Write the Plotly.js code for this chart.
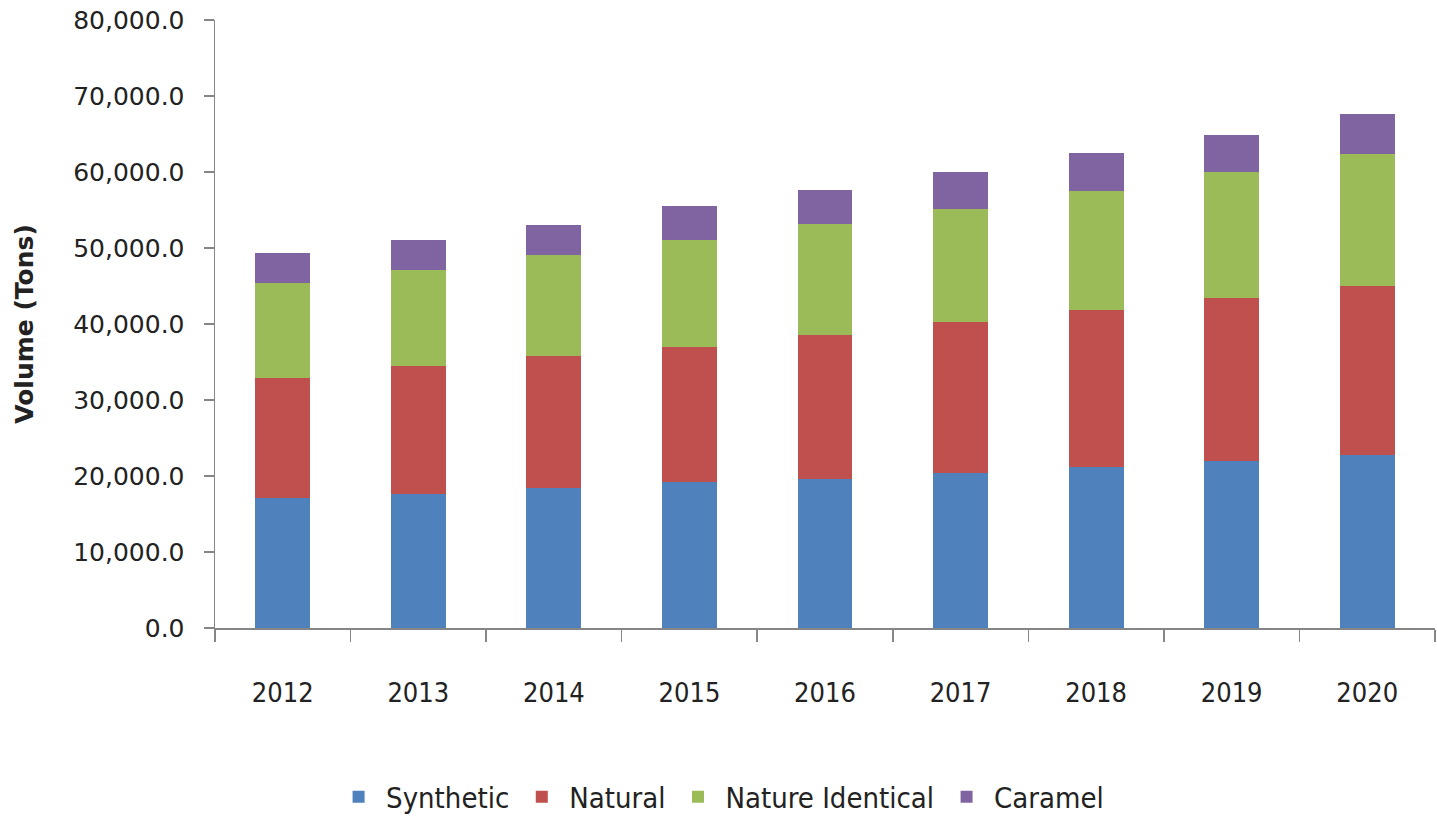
<!DOCTYPE html>
<html>
<head>
<meta charset="utf-8">
<script src="https://cdn.plot.ly/plotly-3.0.1.min.js"></script>
<style>html,body{margin:0;padding:0;background:#fff;}#chart{width:1437px;height:816px;}</style>
</head>
<body>
<div id="chart"></div>
<script>
const years = ["2012","2013","2014","2015","2016","2017","2018","2019","2020"];
const synthetic = [17100, 17600, 18400, 19200, 19600, 20400, 21200, 22000, 22800];
const natural = [15800, 16900, 17350, 17750, 19000, 19800, 20600, 21400, 22250];
const natureIdentical = [12500, 12550, 13300, 14100, 14550, 14900, 15750, 16550, 17350];
const caramel = [4000, 4000, 4000, 4450, 4450, 4850, 4900, 4900, 5200];
const seriesNames = ["Synthetic", "Natural", "Nature Identical", "Caramel"];
const colors = ["#4F81BD", "#C0504D", "#9BBB59", "#8064A2"];
const seriesValues = [synthetic, natural, natureIdentical, caramel];

const traces = seriesValues.map((vals, i) => ({
  type: "bar",
  name: seriesNames[i],
  x: years,
  y: vals,
  marker: {color: colors[i], line: {width: 0}},
  hoverinfo: "x+y+name"
}));

const layout = {
  width: 1437, height: 816,
  barmode: "stack",
  bargap: 0.595,
  paper_bgcolor: "#fff", plot_bgcolor: "#fff",
  margin: {l: 215, r: 2, t: 20, b: 188, autoexpand: false},
  font: {family: "DejaVu Sans", color: "#222"},
  showlegend: true,
  legend: {
    orientation: "h", x: 0.414, xanchor: "center", y: -0.278, yanchor: "middle",
    font: {family: "DejaVu Sans Condensed, DejaVu Sans", size: 29, color: "#222"},
    itemwidth: 45, traceorder: "normal"
  },
  xaxis: {
    type: "category", automargin: false,
    showline: true, linecolor: "#868686", linewidth: 1.5,
    ticks: "outside", tickson: "boundaries", ticklen: 12, tickcolor: "#868686", tickwidth: 1.5,
    ticklabelstandoff: 40,
    tickfont: {family: "DejaVu Sans Condensed, DejaVu Sans", size: 27, color: "#222"},
    showgrid: false, zeroline: false
  },
  yaxis: {
    range: [0, 80000], dtick: 10000, tickformat: ",.1f", automargin: false,
    showline: true, linecolor: "#868686", linewidth: 1.5,
    ticks: "outside", ticklen: 10, tickcolor: "#868686", tickwidth: 1.5,
    ticklabelstandoff: 14,
    tickfont: {family: "DejaVu Sans", size: 25, color: "#222"},
    showgrid: false, zeroline: false,
    title: {text: "<b>Volume (Tons)</b>", font: {family: "DejaVu Sans", size: 25, color: "#222"}, standoff: 32}
  }
};

Plotly.newPlot("chart", traces, layout, {displayModeBar: false, staticPlot: true});
</script>
</body>
</html>
